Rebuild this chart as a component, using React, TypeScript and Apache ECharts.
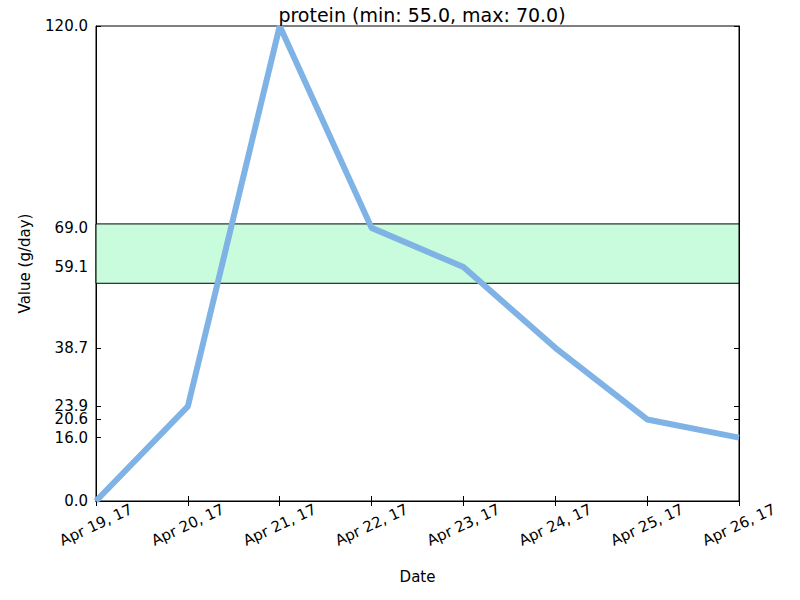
import { useEffect, useRef } from 'react';
import * as echarts from 'echarts';

const dates = ['Apr 19, 17', 'Apr 20, 17', 'Apr 21, 17', 'Apr 22, 17', 'Apr 23, 17', 'Apr 24, 17', 'Apr 25, 17', 'Apr 26, 17'];
const values = [0, 23.9, 120, 69.0, 59.1, 38.7, 20.6, 16.0];
const yTicks = [0, 16.0, 20.6, 23.9, 38.7, 59.1, 69.0, 120.0];
const rangeMin = 55.0;
const rangeMax = 70.0;

const font = 'DejaVu Sans';

export default function App() {
  const chartRef = useRef<HTMLDivElement>(null);

  useEffect(() => {
    if (!chartRef.current) return;
    const chart = echarts.init(chartRef.current, null, { renderer: 'svg' });

    const tick = { show: true, inside: true, length: 5, lineStyle: { color: '#000' } };

    chart.setOption({
      animation: false,
      backgroundColor: '#fff',
      title: {
        text: `protein (min: ${rangeMin.toFixed(1)}, max: ${rangeMax.toFixed(1)})`,
        left: 417,
        textAlign: 'center',
        top: 0,
        textStyle: { fontFamily: font, fontSize: 19, fontWeight: 'normal', color: '#000' },
      },
      grid: { left: 96, right: 61, top: 26, bottom: 99, show: true, borderColor: '#000', borderWidth: 1, backgroundColor: 'transparent' },
      xAxis: [
        {
          type: 'category',
          data: dates,
          boundaryGap: false,
          name: 'Date',
          nameLocation: 'middle',
          nameGap: 68,
          nameTextStyle: { fontFamily: font, fontSize: 15, color: '#000' },
          axisLine: { lineStyle: { color: '#000' } },
          axisTick: tick,
          axisLabel: {
            rotate: 25, align: 'center', verticalAlign: 'middle',
            fontFamily: font, fontSize: 15, color: '#000', margin: 24,
          },
          splitLine: { show: false },
        },
        {
          type: 'category',
          data: dates,
          boundaryGap: false,
          position: 'top',
          axisLine: { lineStyle: { color: '#000' } },
          axisTick: tick,
          axisLabel: { show: false },
        },
      ],
      yAxis: [
        {
          type: 'value',
          min: 0,
          max: 120,
          name: 'Value (g/day)',
          nameLocation: 'middle',
          nameGap: 64,
          nameTextStyle: { fontFamily: font, fontSize: 15, color: '#000' },
          axisLine: { show: true, lineStyle: { color: '#000' } },
          axisTick: { ...tick, customValues: yTicks },
          axisLabel: {
            fontFamily: font, fontSize: 15, color: '#000',
            customValues: yTicks,
            formatter: (v: number) => v.toFixed(1),
          },
          splitLine: { show: false },
        },
        {
          type: 'value',
          min: 0,
          max: 120,
          position: 'right',
          axisLine: { show: true, lineStyle: { color: '#000' } },
          axisTick: { ...tick, customValues: yTicks },
          axisLabel: { show: false },
          splitLine: { show: false },
        },
      ],
      series: [
        {
          type: 'line',
          data: values,
          showSymbol: false,
          lineStyle: { color: '#7fb2e5', width: 6 },
          markArea: {
            silent: true,
            itemStyle: { color: '#c9fcdc', borderColor: '#000', borderWidth: 1 },
            data: [[{ yAxis: rangeMin }, { yAxis: rangeMax }]],
          },
          z: 3,
        },
      ],
    });

    return () => chart.dispose();
  }, []);

  return <div ref={chartRef} style={{ position: 'fixed', left: 0, top: 0, width: 800, height: 600 }} />;
}
